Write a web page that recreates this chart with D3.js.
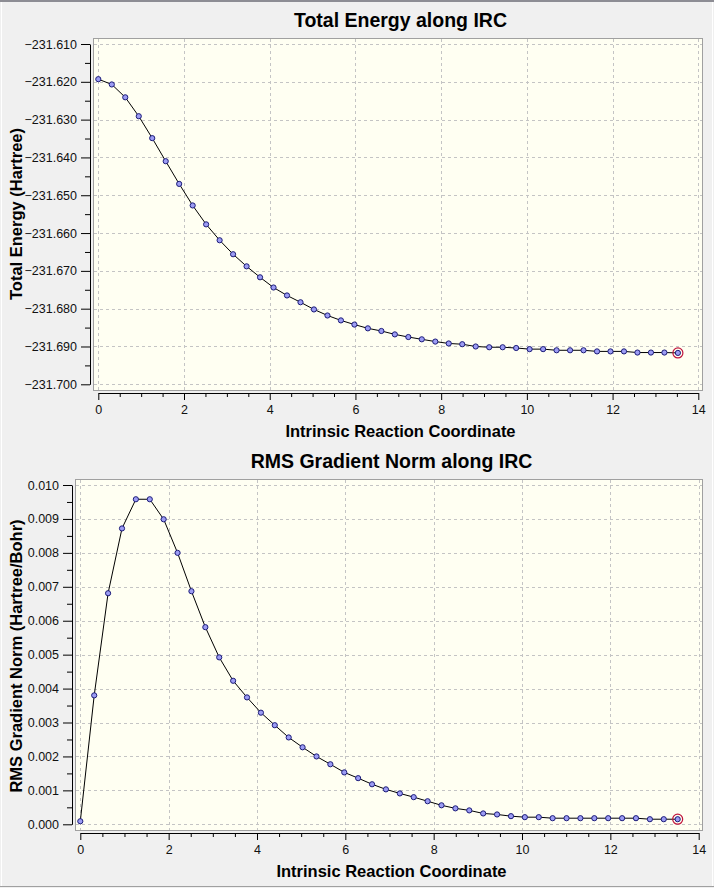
<!DOCTYPE html>
<html>
<head>
<meta charset="utf-8">
<script src="https://cdn.jsdelivr.net/npm/d3@7"></script>
<style>
  html, body { margin: 0; padding: 0; background: #f0f0f0; }
  svg { display: block; }
</style>
</head>
<body>
<svg></svg>
<script>
const width = 714;
const height = 888;

// IRC step coordinates (shared by both plots)
const ircCoord = [0, 0.315, 0.629, 0.944, 1.258, 1.573, 1.887, 2.202, 2.516, 2.831,
   3.145, 3.460, 3.774, 4.089, 4.403, 4.718, 5.032, 5.347, 5.661, 5.976,
   6.290, 6.605, 6.919, 7.234, 7.548, 7.863, 8.177, 8.492, 8.806, 9.121,
   9.435, 9.750, 10.064, 10.379, 10.693, 11.008, 11.322, 11.637, 11.951, 12.266,
   12.580, 12.895, 13.209, 13.524];

const totalEnergy = [-231.6193, -231.6207, -231.6241, -231.6291, -231.6349, -231.6410, -231.6470, -231.6527, -231.6577, -231.6619,
   -231.6656, -231.6688, -231.6717, -231.6744, -231.6765, -231.6783, -231.6802, -231.6818, -231.6831, -231.6842,
   -231.6852, -231.6859, -231.6868, -231.6875, -231.6881, -231.6887, -231.6892, -231.6894, -231.6900, -231.6902,
   -231.6902, -231.6904, -231.6907, -231.6907, -231.6910, -231.6910, -231.6910, -231.6913, -231.6913, -231.6913,
   -231.6916, -231.6916, -231.6916, -231.6917];

const gradNorm = [0.00009, 0.00380, 0.00681, 0.00872, 0.00958, 0.00958, 0.00899, 0.00800, 0.00687, 0.00581,
   0.00492, 0.00423, 0.00374, 0.00329, 0.00292, 0.00256, 0.00227, 0.00200, 0.00177, 0.00153,
   0.00136, 0.00118, 0.00103, 0.00091, 0.00080, 0.00068, 0.00056, 0.00047, 0.00041, 0.00032,
   0.00029, 0.00024, 0.00021, 0.00021, 0.00018, 0.00018, 0.00018, 0.00018, 0.00018, 0.00018,
   0.00018, 0.00015, 0.00015, 0.00015];

const xTicks = [0, 2, 4, 6, 8, 10, 12, 14];
const energyTicks = [-231.610, -231.620, -231.630, -231.640, -231.650, -231.660, -231.670, -231.680, -231.690, -231.700];
const gradTicks = [0.000, 0.001, 0.002, 0.003, 0.004, 0.005, 0.006, 0.007, 0.008, 0.009, 0.010];

const FONT = "'Liberation Sans', Arial, sans-serif";

const svg = d3.select("svg").attr("width", width).attr("height", height);

// window background + frame
svg.append("rect").attr("width", width).attr("height", height).attr("fill", "#f0f0f0");
svg.append("rect").attr("x", 0).attr("y", 0).attr("width", width).attr("height", 2).attr("fill", "#8d8d94");
svg.append("rect").attr("x", 1).attr("y", 2).attr("width", 1).attr("height", height - 4).attr("fill", "#ffffff");
svg.append("rect").attr("x", 0).attr("y", height - 2).attr("width", width).attr("height", 1).attr("fill", "#a0a0a0");
svg.append("rect").attr("x", width - 2).attr("y", 2).attr("width", 1).attr("height", height - 4).attr("fill", "#ffffff");

const drawPanel = (cfg) => {
   const x = d3.scaleLinear().domain([0, 14]).range(cfg.xRange);
   const y = d3.scaleLinear().domain(cfg.yDomain).range(cfg.yRange);
   const g = svg.append("g");

   // plot area
   g.append("rect")
      .attr("x", cfg.plot[0] + 0.5)
      .attr("y", cfg.plot[1] + 0.5)
      .attr("width", cfg.plot[2] - cfg.plot[0])
      .attr("height", cfg.plot[3] - cfg.plot[1])
      .attr("fill", "#fffff2")
      .attr("stroke", "#a0a0a0");

   // grid
   g.append("g").selectAll("line")
      .data(xTicks)
      .enter()
      .append("line")
      .attr("x1", d => Math.round(x(d)) + 0.5)
      .attr("x2", d => Math.round(x(d)) + 0.5)
      .attr("y1", cfg.plot[1] + 1)
      .attr("y2", cfg.plot[3])
      .attr("stroke", "#c4c4c4")
      .attr("stroke-dasharray", "3,3");
   g.append("g").selectAll("line")
      .data(cfg.yTicks)
      .enter()
      .append("line")
      .attr("y1", d => Math.round(y(d)) + 0.5)
      .attr("y2", d => Math.round(y(d)) + 0.5)
      .attr("x1", cfg.plot[0] + 1)
      .attr("x2", cfg.plot[2])
      .attr("stroke", "#c4c4c4")
      .attr("stroke-dasharray", "3,3");

   // y axis
   const yStep = cfg.yTicks[1] - cfg.yTicks[0];
   const yMinor = cfg.yTicks.slice(1).map((d, i) => d - yStep / 2);
   g.append("g")
      .attr("transform", `translate(${cfg.yAxisX},0)`)
      .call(d3.axisLeft(y).tickValues(yMinor).tickSize(5).tickFormat(""))
      .call(a => a.select(".domain").remove());
   g.append("g")
      .attr("transform", `translate(${cfg.yAxisX},0)`)
      .call(d3.axisLeft(y).tickValues(cfg.yTicks).tickSize(9).tickSizeOuter(0).tickPadding(4).tickFormat(d3.format(".3f")))
      .attr("font-family", FONT)
      .attr("font-size", 12.5);

   // x axis
   const xMinor = d3.range(0, 14.01, 0.5).filter(d => d % 2 !== 0);
   g.append("g")
      .attr("transform", `translate(0,${cfg.xAxisY})`)
      .call(d3.axisBottom(x).tickValues(xMinor).tickSize(4).tickFormat(""))
      .call(a => a.select(".domain").remove());
   g.append("g")
      .attr("transform", `translate(0,${cfg.xAxisY})`)
      .call(d3.axisBottom(x).tickValues(xTicks).tickSize(7).tickSizeOuter(0).tickPadding(5))
      .attr("font-family", FONT)
      .attr("font-size", 12.5);

   g.selectAll(".tick text").attr("fill", "#111");

   // line + markers
   const pts = ircCoord.map((c, i) => [c, cfg.values[i]]);
   g.append("path")
      .datum(pts)
      .attr("fill", "none")
      .attr("stroke", "#000")
      .attr("stroke-width", 1)
      .attr("d", d3.line().x(d => x(d[0])).y(d => y(d[1])));
   g.append("g").selectAll("circle")
      .data(pts)
      .enter()
      .append("circle")
      .attr("cx", d => x(d[0]))
      .attr("cy", d => y(d[1]))
      .attr("r", 2.6)
      .attr("fill", "#9c9cf4")
      .attr("stroke", "#1c1c78")
      .attr("stroke-width", 1);
   const last = pts[pts.length - 1];
   g.append("circle")
      .attr("cx", x(last[0]))
      .attr("cy", y(last[1]))
      .attr("r", 5)
      .attr("fill", "none")
      .attr("stroke", "#c0143c")
      .attr("stroke-width", 1.2);

   // titles
   const cx = (cfg.plot[0] + cfg.plot[2]) / 2 + 3;
   g.append("text")
      .attr("x", cx)
      .attr("y", cfg.plot[1] - 11)
      .attr("text-anchor", "middle")
      .attr("font-family", FONT)
      .attr("font-weight", "bold")
      .attr("font-size", 19.5)
      .text(cfg.title);
   g.append("text")
      .attr("x", cx)
      .attr("y", cfg.xAxisY + 44)
      .attr("text-anchor", "middle")
      .attr("font-family", FONT)
      .attr("font-weight", "bold")
      .attr("font-size", 16.5)
      .text("Intrinsic Reaction Coordinate");
   g.append("text")
      .attr("transform", `translate(22,${cfg.yTitleY}) rotate(-90)`)
      .attr("text-anchor", "middle")
      .attr("font-family", FONT)
      .attr("font-weight", "bold")
      .attr("font-size", 16.5)
      .text(cfg.yTitle);
}

drawPanel({
   title: "Total Energy along IRC",
   yTitle: "Total Energy (Hartree)",
   values: totalEnergy,
   yTicks: energyTicks,
   yDomain: [-231.700, -231.610],
   yRange: [384.3, 44],
   xRange: [98.3, 698.3],
   plot: [93, 38, 702, 390],
   yAxisX: 90,
   xAxisY: 393,
   yTitleY: 214
});

drawPanel({
   title: "RMS Gradient Norm along IRC",
   yTitle: "RMS Gradient Norm (Hartree/Bohr)",
   values: gradNorm,
   yTicks: gradTicks,
   yDomain: [0, 0.010],
   yRange: [824.3, 485],
   xRange: [80.3, 698.7],
   plot: [75, 479, 702, 830],
   yAxisX: 72,
   xAxisY: 833,
   yTitleY: 656
});
</script>
</body>
</html>
